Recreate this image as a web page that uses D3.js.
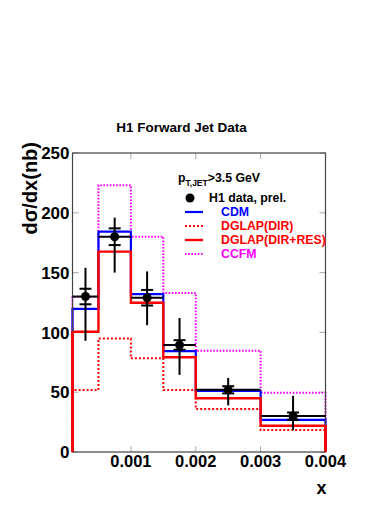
<!DOCTYPE html>
<html><head><meta charset="utf-8">
<script src="https://cdn.jsdelivr.net/npm/d3@7"></script>
<style>body{margin:0;background:#fff}svg{display:block}text{font-family:"Liberation Sans",Arial,Helvetica,sans-serif;font-weight:bold}</style>
</head><body>
<script>
// ---- data ----
const binEdges = [0.0001, 0.0005, 0.001, 0.0015, 0.002, 0.003, 0.004];
const dataValues = [130, 180, 129, 89.5, 52, 30];
const dataTotErrUp = [24, 16, 22, 22.5, 10, 17];
const dataTotErrDown = [37, 30, 23, 25, 13, 11.6];
const dataStatErr = [6.5, 7, 6.5, 4, 3, 3];
const cdmValues = [119.6, 184.2, 132, 84.4, 51, 26.8];
const dglapDirValues = [51.8, 95, 78.3, 51.8, 35.9, 18.4];
const dglapDirResValues = [100.6, 167.5, 124.8, 79.2, 44.9, 22];
const ccfmValues = [129.6, 223, 180, 133, 84.7, 49.6];
const xTickValues = [0.001, 0.002, 0.003, 0.004];
const xTickLabels = ["0.001", "0.002", "0.003", "0.004"];
const yTickValues = [0, 50, 100, 150, 200, 250];
const legendLabels = ["H1 data, prel.", "CDM", "DGLAP(DIR)", "DGLAP(DIR+RES)", "CCFM"];

const W = 391, H = 506;
const L = 72.5, R = 325.5, T = 153, B = 452;
const svg = d3.select("body").append("svg").attr("width", W).attr("height", H);
const x = d3.scaleLinear().domain([0.0001, 0.004]).range([L, R]);
const y = d3.scaleLinear().domain([0, 250]).range([B, T]);

// title
svg.append("text").attr("x", 181.5).attr("y", 131.5).attr("text-anchor", "middle")
  .attr("font-size", 13.5).text("H1 Forward Jet Data");

// ticks
const tickCol = "#aaa";
const g = svg.append("g");
yTickValues.forEach(v => {
  g.append("line").attr("x1", L).attr("x2", L + 6).attr("y1", y(v)).attr("y2", y(v)).attr("stroke", tickCol);
  g.append("line").attr("x1", R).attr("x2", R - 6).attr("y1", y(v)).attr("y2", y(v)).attr("stroke", tickCol);
});
xTickValues.forEach(v => {
  g.append("line").attr("x1", x(v)).attr("x2", x(v)).attr("y1", B).attr("y2", B - 6).attr("stroke", tickCol);
  g.append("line").attr("x1", x(v)).attr("x2", x(v)).attr("y1", T).attr("y2", T + 6).attr("stroke", tickCol);
});

// tick labels
yTickValues.forEach(v => {
  svg.append("text").attr("x", 69.5).attr("y", y(v)).attr("dy", "0.36em")
    .attr("text-anchor", "end").attr("font-size", 17).text(v);
});
xTickValues.forEach((v, i) => {
  svg.append("text").attr("x", x(v)).attr("y", 467).attr("text-anchor", "middle")
    .attr("font-size", 16.5).text(xTickLabels[i]);
});

// axis titles
svg.append("text").attr("x", 321.5).attr("y", 494).attr("text-anchor", "middle")
  .attr("font-size", 18).text("x");
svg.append("text").attr("transform", "translate(37,142) rotate(-90)")
  .attr("text-anchor", "end").attr("font-size", 20).text("dσ/dx(nb)");

// histograms
function stepPoints(vals) {
  const pts = [[binEdges[0], 0]];
  vals.forEach((v, i) => { pts.push([binEdges[i], v]); pts.push([binEdges[i + 1], v]); });
  pts.push([binEdges[binEdges.length - 1], 0]);
  return pts;
}
const line = d3.line().x(d => x(d[0])).y(d => y(d[1]));
function hist(vals, color, width, dash) {
  svg.append("path").attr("d", line(stepPoints(vals))).attr("fill", "none")
    .attr("stroke", color).attr("stroke-width", width)
    .attr("stroke-dasharray", dash || null);
}
hist(ccfmValues, "#ff00ff", 2, "1.6,1.6");
hist(dglapDirValues, "#ff0000", 2, "2,2");
hist(cdmValues, "#0000ff", 2.2);
hist(dglapDirResValues, "#ff0000", 2.4);

// frame
svg.append("rect").attr("x", L).attr("y", T).attr("width", R - L).attr("height", B - T)
  .attr("fill", "none").attr("stroke", "#444").attr("stroke-width", 1.2);
// redraw red edges on top of frame at left/right
svg.append("path").attr("d", line([[binEdges[0], 0], [binEdges[0], dglapDirResValues[0]]]))
  .attr("stroke", "#ff0000").attr("stroke-width", 2.4);
svg.append("path").attr("d", line([[binEdges[6], 0], [binEdges[6], dglapDirResValues[5]]]))
  .attr("stroke", "#ff0000").attr("stroke-width", 2.4);

// data points
const dg = svg.append("g").attr("stroke", "#000").attr("stroke-width", 2);
dataValues.forEach((v, i) => {
  const cx = x((binEdges[i] + binEdges[i + 1]) / 2);
  dg.append("line").attr("x1", x(binEdges[i])).attr("x2", x(binEdges[i + 1])).attr("y1", y(v)).attr("y2", y(v));
  dg.append("line").attr("x1", cx).attr("x2", cx).attr("y1", y(v + dataTotErrUp[i])).attr("y2", y(v - dataTotErrDown[i]));
  [v + dataStatErr[i], v - dataStatErr[i]].forEach(s => {
    dg.append("line").attr("x1", cx - 6).attr("x2", cx + 6).attr("y1", y(s)).attr("y2", y(s));
  });
  svg.append("circle").attr("cx", cx).attr("cy", y(v)).attr("r", 4.5).attr("fill", "#000");
});

// legend
const lg = svg.append("g");
const pt = lg.append("text").attr("x", 178).attr("y", 182).attr("font-size", 12.3);
pt.append("tspan").text("p");
pt.append("tspan").attr("font-size", 8.5).attr("dy", 3.5).text("T,JET");
pt.append("tspan").attr("dy", -3.5).text(">3.5 GeV");
const legY = [198, 212, 226, 240, 254];
const legCol = ["#000", "#0000ff", "#ff0000", "#ff0000", "#ff00ff"];
lg.append("circle").attr("cx", 190).attr("cy", legY[0]).attr("r", 4.5).attr("fill", "#000");
lg.append("line").attr("x1", 185).attr("x2", 203).attr("y1", legY[1]).attr("y2", legY[1]).attr("stroke", "#0000ff").attr("stroke-width", 2.2);
lg.append("line").attr("x1", 185).attr("x2", 203).attr("y1", legY[2]).attr("y2", legY[2]).attr("stroke", "#ff0000").attr("stroke-width", 2).attr("stroke-dasharray", "2,2");
lg.append("line").attr("x1", 185).attr("x2", 203).attr("y1", legY[3]).attr("y2", legY[3]).attr("stroke", "#ff0000").attr("stroke-width", 2.4);
lg.append("line").attr("x1", 185).attr("x2", 203).attr("y1", legY[4]).attr("y2", legY[4]).attr("stroke", "#ff00ff").attr("stroke-width", 2).attr("stroke-dasharray", "1.6,1.6");
legendLabels.forEach((t, i) => {
  lg.append("text").attr("x", i === 0 ? 209 : 221).attr("y", legY[i]).attr("dy", "0.36em")
    .attr("font-size", 12.3).attr("fill", legCol[i]).text(t);
});
</script>
</body></html>
